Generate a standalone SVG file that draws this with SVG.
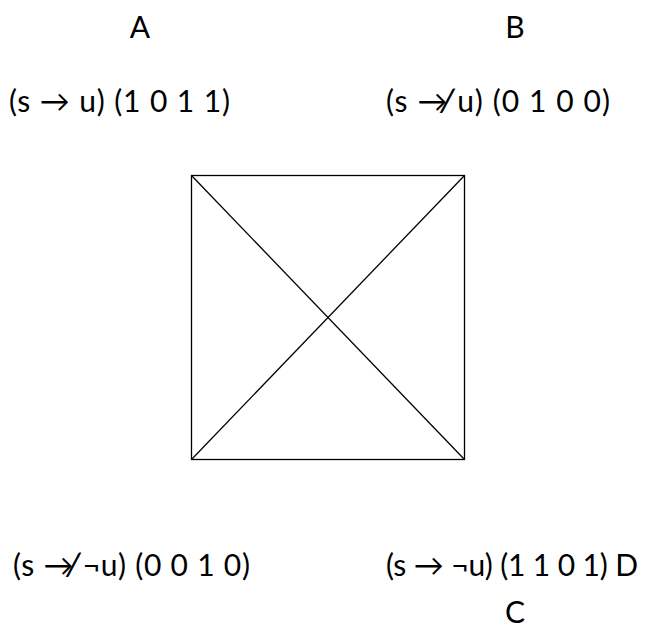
<svg xmlns="http://www.w3.org/2000/svg" width="648" height="628" viewBox="0 0 648 628">
<style>
text{font-family:Lato,"Open Sans","Noto Sans","DejaVu Sans",sans-serif;font-size:30px;fill:#000}
.edge{stroke:#000;stroke-width:1.3;fill:none}
</style>
<rect width="648" height="628" fill="#fff"/>
<g id="node-A"><text x="140" y="38" text-anchor="middle">A</text><text x="9" y="112" textLength="221" lengthAdjust="spacing">(s → u) (1 0 1 1)</text></g>
<g id="node-B"><text x="515" y="38" text-anchor="middle">B</text><text x="386" y="112" textLength="224" lengthAdjust="spacing">(s ↛ u) (0 1 0 0)</text></g>
<g id="node-lower-left"><text x="13" y="576" textLength="237" lengthAdjust="spacing">(s ↛ ¬u) (0 0 1 0)</text></g>
<g id="node-lower-right"><text x="386" y="576" textLength="252" lengthAdjust="spacing">(s → ¬u) (1 1 0 1) D</text><text x="515" y="623" text-anchor="middle">C</text></g>
<g id="connectors">
<rect class="edge" x="191.5" y="175.5" width="273" height="284"/>
<line class="edge" x1="191.5" y1="175.5" x2="464.5" y2="459.5"/>
<line class="edge" x1="464.5" y1="175.5" x2="191.5" y2="459.5"/>
</g>
</svg>
